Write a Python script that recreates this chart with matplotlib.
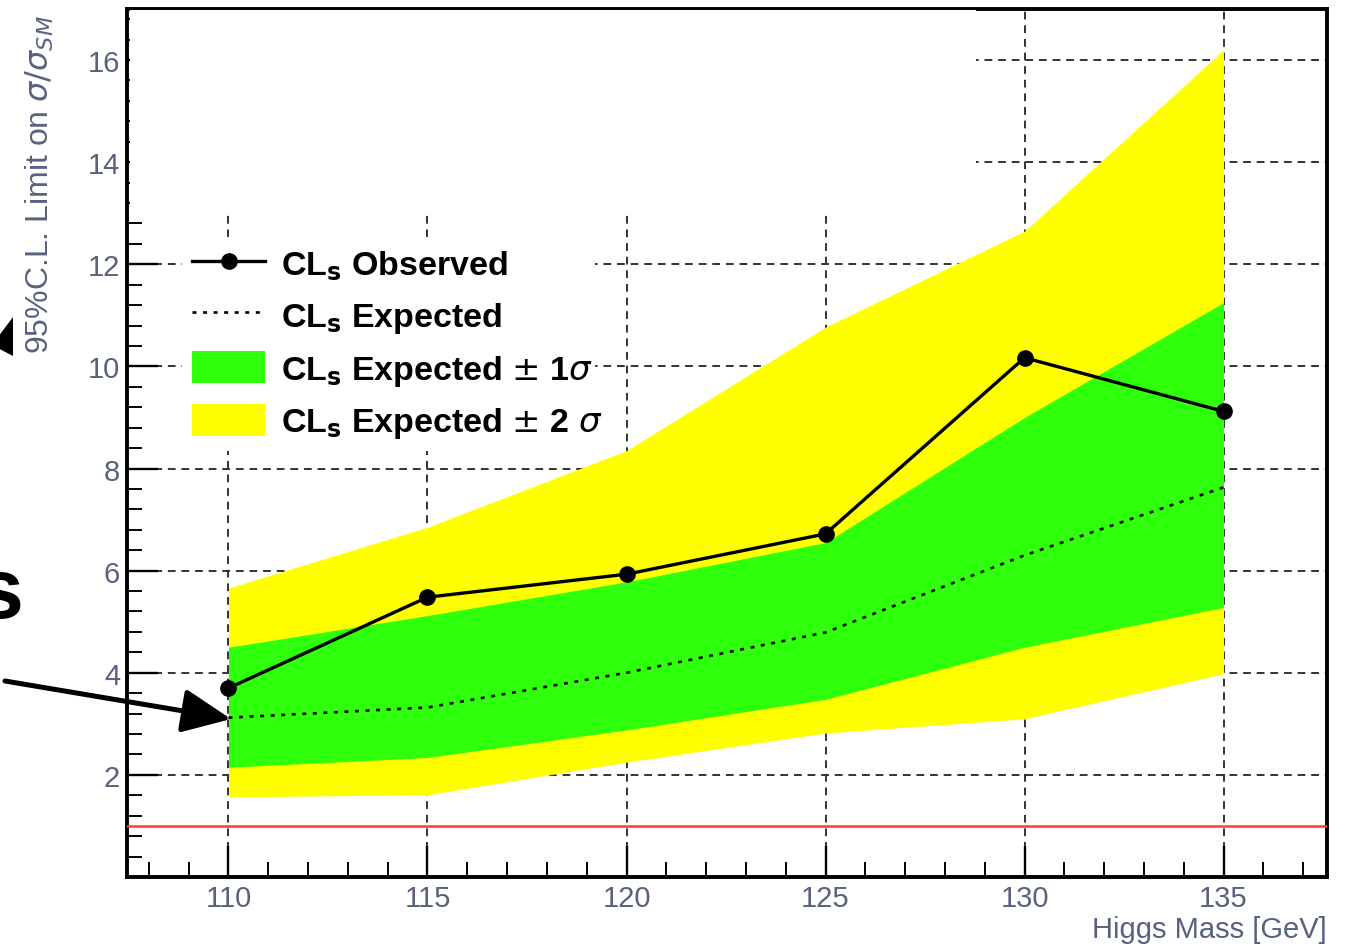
import matplotlib
matplotlib.use("Agg")
from matplotlib import pyplot as plt
from matplotlib.patches import Rectangle, Polygon, FancyArrowPatch
from matplotlib.ticker import MultipleLocator

# values
mass = [110, 115, 120, 125, 130, 135]
observed = [3.70, 5.48, 5.93, 6.72, 10.17, 9.12]
expected = [3.12, 3.32, 4.00, 4.79, 6.30, 7.63]
exp_minus1 = [2.15, 2.34, 2.88, 3.48, 4.50, 5.28]
exp_plus1 = [4.50, 5.12, 5.78, 6.55, 9.00, 11.25]
exp_minus2 = [1.57, 1.61, 2.25, 2.82, 3.10, 3.98]
exp_plus2 = [5.66, 6.85, 8.35, 10.77, 12.65, 16.20]
sm_line = 1.0

x_ticks = [110, 115, 120, 125, 130, 135]
y_ticks = [2, 4, 6, 8, 10, 12, 14, 16]

W, H = 1347, 945
plt.rcParams['font.family'] = ['Liberation Sans', 'DejaVu Sans']
txt_col = '#58627e'


def px(x, y):                       # pixel position (top-left origin) -> figure fraction
    return (x / W, 1 - y / H)


fig = plt.figure(figsize=(W / 100, H / 100), dpi=100)
ax = fig.add_axes([127 / W, 1 - 878 / H, 1200 / W, 868 / H])

ax.fill_between(mass, exp_minus2, exp_plus2, color='#ffff00', lw=0, zorder=1)
ax.fill_between(mass, exp_minus1, exp_plus1, color='#2eff0a', lw=0, zorder=2)
ax.plot(mass, expected, color='black', linestyle=(0, (1.5, 2.5)), lw=1.9, zorder=3)
ax.plot(mass, observed, color='black', marker='o', markersize=11, lw=2.4, zorder=4)
ax.axhline(sm_line, color='#ff3b3b', lw=1.8, zorder=3)

ax.set_xlim(107.45, 137.6)
ax.set_ylim(0, 17)
ax.set_xticks(x_ticks)
ax.set_yticks(y_ticks)
ax.xaxis.set_minor_locator(MultipleLocator(1))
ax.yaxis.set_minor_locator(MultipleLocator(0.4))
ax.tick_params(which='major', direction='in', length=22, width=1.7, labelsize=21,
               labelcolor=txt_col, pad=5)
ax.tick_params(which='minor', direction='in', length=11, width=1.4)
ax.set_axisbelow(True)
ax.grid(which='major', linestyle=(0, (4, 3)), color='#333333', lw=1.4)
for s in ax.spines.values():
    s.set_linewidth(2.8)

# legend (white box without border)
h_obs, = ax.plot([], [], color='black', marker='o', markersize=11, lw=2.4)
h_exp, = ax.plot([], [], color='black', linestyle=(0, (1.5, 2.5)), lw=1.9)
h_1s = Rectangle((0, 0), 1, 1, color='#2eff0a', lw=0)
h_2s = Rectangle((0, 0), 1, 1, color='#ffff00', lw=0)
leg = fig.legend([h_obs, h_exp, h_1s, h_2s],
                 [r'CL$_\mathbf{s}$ Observed', r'CL$_\mathbf{s}$ Expected',
                  r'CL$_\mathbf{s}$ Expected $\pm$ 1$\sigma$', r'CL$_\mathbf{s}$ Expected $\pm$ 2 $\sigma$'],
                 loc='upper left', bbox_to_anchor=(*px(182, 458), 413 / W, 220 / H), mode='expand',
                 prop={'size': 24.5, 'weight': 'bold'}, frameon=True, facecolor='white', edgecolor='none',
                 framealpha=1, fancybox=False, handlelength=2.15, handleheight=1.05,
                 handletextpad=0.45, labelspacing=0.48, borderpad=0.3, borderaxespad=0)
leg.set_zorder(6)

# white patch that hides the top-left part of the plot
fig.add_artist(Rectangle(px(130, 213), (976 - 130) / W, (213 - 10.5) / H,
                         transform=fig.transFigure, facecolor='white', edgecolor='none', zorder=10))

# axis titles
fig.text(*px(40, 185), r'95%C.L. Limit on $\sigma/\sigma_{SM}$', rotation=90, ha='center', va='center',
         fontsize=23, color=txt_col)
fig.text(*px(1327, 944), 'Higgs Mass [GeV]', ha='right', va='bottom', fontsize=21, color=txt_col)

# overlay marks around the plot
fig.add_artist(Polygon([px(13, 318), px(13, 357), px(-8, 346)], closed=True,
                       transform=fig.transFigure, facecolor='black', edgecolor='none', zorder=11))
fig.text(*px(0, 596), 's', ha='center', va='center', fontsize=62, fontweight='bold', color='black')
fig.add_artist(FancyArrowPatch(px(5, 682), px(231, 720), transform=fig.transFigure,
                               arrowstyle='-|>,head_length=1.0,head_width=0.45', mutation_scale=30,
                               lw=3.6, color='black', shrinkA=0, shrinkB=0, zorder=12))

fig.savefig('out.png', dpi=100)
